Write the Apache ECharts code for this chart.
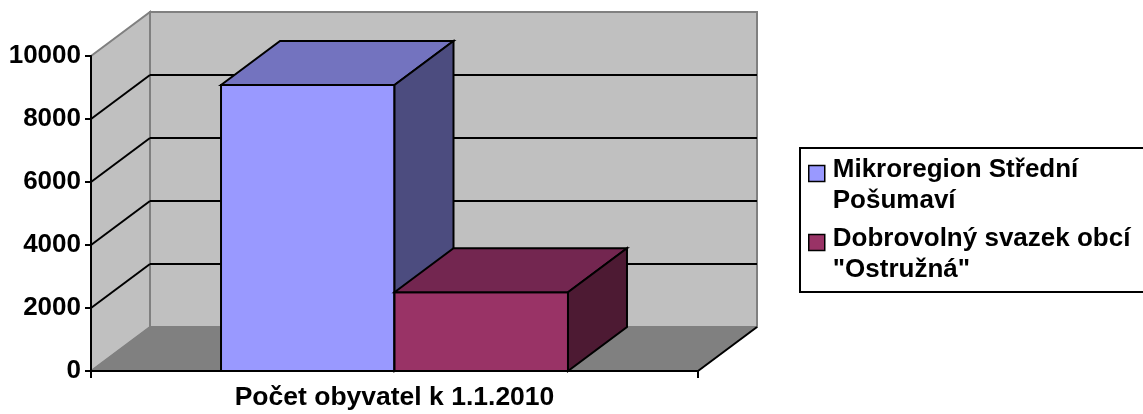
<!DOCTYPE html>
<html>
<head>
<meta charset="utf-8">
<script src="https://cdn.jsdelivr.net/npm/echarts@6/dist/echarts.min.js"></script>
<style>
html,body{margin:0;padding:0;background:#fff;}
#chart{width:1143px;height:414px;}
</style>
</head>
<body>
<div id="chart"></div>
<script>
const categories = ['Počet obyvatel k 1.1.2010'];
const seriesNames = ['Mikroregion Střední\nPošumaví', 'Dobrovolný svazek obcí\n"Ostružná"'];
const seriesValues = [[9080], [2500]];
const yTicks = [0, 2000, 4000, 6000, 8000, 10000];

const FONT = '"Liberation Sans", Arial, sans-serif';
const DX = 59, DY = -44;
const BAR_FRAC = 0.2858;
const faceColors = [
  {front: '#9999FF', top: '#7373BF', side: '#4C4C7F'},
  {front: '#993366', top: '#732650', side: '#4D1A33'}
];

const chart = echarts.init(document.getElementById('chart'), null, {renderer: 'canvas'});

function poly(points, fill, stroke, lw) {
  return {type: 'polygon', shape: {points: points},
    style: {fill: fill, stroke: stroke || null, lineWidth: lw || 0, lineJoin: 'miter'}};
}
function line(p1, p2, stroke, lw) {
  return {type: 'line', shape: {x1: p1[0], y1: p1[1], x2: p2[0], y2: p2[1]},
    style: {stroke: stroke, lineWidth: lw}};
}

function renderDecor(params, api) {
  const bw = api.size([1, 0])[0];
  const c0 = api.coord([0, yTicks[0]]);
  const cTop = api.coord([0, yTicks[yTicks.length - 1]]);
  const xl = c0[0] - bw / 2, xr = c0[0] + bw / 2;
  const yb = c0[1], yt = cTop[1];
  const kids = [];
  kids.push(poly([[xl, yt], [xl + DX, yt + DY], [xl + DX, yb + DY], [xl, yb]], '#C0C0C0', '#808080', 2));
  kids.push(poly([[xl + DX, yt + DY], [xr + DX, yt + DY], [xr + DX, yb + DY], [xl + DX, yb + DY]], '#C0C0C0', '#808080', 2));
  kids.push(poly([[xl, yb], [xl + DX, yb + DY], [xr + DX, yb + DY], [xr, yb]], '#808080', '#808080', 1));
  for (let i = 1; i < yTicks.length - 1; i++) {
    const y = api.coord([0, yTicks[i]])[1];
    kids.push(line([xl, y], [xl + DX, y + DY], '#000', 2));
    kids.push(line([xl + DX, y + DY], [xr + DX, y + DY], '#000', 2));
  }
  kids.push(line([xr, yb], [xr + DX, yb + DY], '#000', 2));
  return {type: 'group', children: kids};
}

function makeBarRender(si) {
  return function (params, api) {
    const idx = api.value(0), val = api.value(1);
    const ct = api.coord([idx, val]);
    const cb = api.coord([idx, 0]);
    const bw = api.size([1, 0])[0];
    const w = bw * BAR_FRAC;
    const n = seriesValues.length;
    const x0 = ct[0] + (si - n / 2) * w, x1 = x0 + w;
    const yt = ct[1], yb = cb[1];
    const col = faceColors[si];
    return {type: 'group', children: [
      poly([[x0, yt], [x1, yt], [x1, yb], [x0, yb]], col.front, '#000', 2),
      poly([[x0, yt], [x0 + DX, yt + DY], [x1 + DX, yt + DY], [x1, yt]], col.top, '#000', 2),
      poly([[x1, yt], [x1 + DX, yt + DY], [x1 + DX, yb + DY], [x1, yb]], col.side, '#000', 2)
    ]};
  };
}

const series = [{
  type: 'custom', name: '__decor', coordinateSystem: 'cartesian2d', clip: false, silent: true, z: 1,
  renderItem: renderDecor, data: [[0, 0]], encode: {x: 0, y: 1}
}];
seriesNames.forEach(function (nm, si) {
  series.push({
    type: 'custom', name: nm, coordinateSystem: 'cartesian2d', clip: false, z: 2 + si,
    itemStyle: {color: faceColors[si].front},
    renderItem: makeBarRender(si),
    data: seriesValues[si].map(function (v, i) { return [i, v]; }),
    encode: {x: 0, y: 1}
  });
});

const legendText = {
  fontSize: 26, fontWeight: 'bold', fontFamily: FONT, color: '#000', padding: [0, 0, 0, 3],
  rich: {
    a: {fontSize: 26, fontWeight: 'bold', fontFamily: FONT, color: '#000', lineHeight: 55},
    b: {fontSize: 26, fontWeight: 'bold', fontFamily: FONT, color: '#000', lineHeight: 7}
  }
};
function legendFmt(name) {
  const parts = name.split('\n');
  return '{a|' + parts[0] + '}\n{b|' + parts[1] + '}';
}
function makeLegend(name, top) {
  return {data: [name], orient: 'vertical', left: 808, top: top, padding: 0, icon: 'rect',
    itemWidth: 16, itemHeight: 16, itemStyle: {borderColor: '#000', borderWidth: 1.5},
    textStyle: legendText, formatter: legendFmt, selectedMode: false};
}

chart.setOption({
  animation: false,
  backgroundColor: '#fff',
  grid: {left: 91, right: 445, top: 56, bottom: 43, containLabel: false},
  xAxis: {
    type: 'category', data: categories, boundaryGap: true, z: 10,
    axisLine: {show: true, lineStyle: {color: '#000', width: 2}},
    axisTick: {show: true, length: 7, lineStyle: {color: '#000', width: 2}, alignWithLabel: false},
    axisLabel: {color: '#000', fontSize: 26.5, fontWeight: 'bold', fontFamily: FONT, margin: 14, lineHeight: 26},
    splitLine: {show: false}
  },
  yAxis: {
    type: 'value', min: yTicks[0], max: yTicks[yTicks.length - 1], interval: yTicks[1] - yTicks[0], z: 10,
    axisLine: {show: true, lineStyle: {color: '#000', width: 2}},
    axisTick: {show: true, length: 6, lineStyle: {color: '#000', width: 2}},
    axisLabel: {color: '#000', fontSize: 26, fontWeight: 'bold', fontFamily: FONT, margin: 10,
      formatter: function (v) { return String(v); }},
    splitLine: {show: false}
  },
  legend: [makeLegend(seriesNames[0], 157), makeLegend(seriesNames[1], 226)],
  graphic: [{
    type: 'rect', left: 799, top: 147, z: -1,
    shape: {width: 400, height: 144},
    style: {fill: '#fff', stroke: '#000', lineWidth: 2}
  }],
  series: series
});
</script>
</body>
</html>
